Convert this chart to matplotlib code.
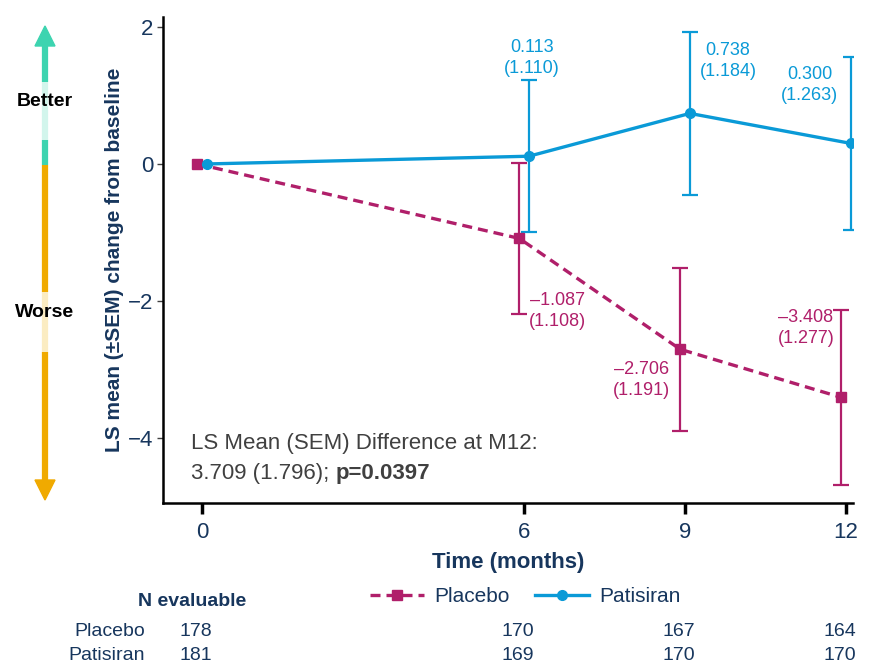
import matplotlib
matplotlib.use('Agg')
import matplotlib.pyplot as plt
import matplotlib.transforms as mtrans
from matplotlib.lines import Line2D
from matplotlib.patches import Polygon

plt.rcParams['font.family'] = ['Liberation Sans', 'DejaVu Sans']

months = [0, 6, 9, 12]
patisiranMean = [0.0, 0.113, 0.738, 0.300]
patisiranSem = [0.0, 1.110, 1.184, 1.263]
placeboMean = [0.0, -1.087, -2.706, -3.408]
placeboSem = [0.0, 1.108, 1.191, 1.277]
placeboN = [178, 170, 167, 164]
patisiranN = [181, 169, 170, 170]

navy = '#17365d'
blue = '#0a9ad7'
magenta = '#b01f6a'
grey = '#404040'
teal = '#3dd4b0'
orange = '#f0aa00'

W, H = 872, 664
fig = plt.figure(figsize=(W / 100, H / 100), dpi=100)
ax = fig.add_axes([163 / W, 1 - 503 / H, (853 - 163) / W, (503 - 16.7) / H])

offset = 0.09
xPla = [m - offset for m in months]
xPat = [m + offset for m in months]

ax.errorbar(xPla[1:], placeboMean[1:], yerr=placeboSem[1:], fmt='none',
            ecolor=magenta, elinewidth=1.6, capsize=6, capthick=1.6, zorder=2)
ax.errorbar(xPat[1:], patisiranMean[1:], yerr=patisiranSem[1:], fmt='none',
            ecolor=blue, elinewidth=1.6, capsize=6, capthick=1.6, zorder=2)
ax.plot(xPla, placeboMean, color=magenta, lw=2.4, ls=(0, (3, 1.8)), marker='s',
        markersize=7, label='Placebo', zorder=3)
ax.plot(xPat, patisiranMean, color=blue, lw=2.4, marker='o',
        markersize=7, label='Patisiran', zorder=4)

ax.set_xlim(-0.73, 12.13)
ax.set_ylim(-4.95, 2.15)
ax.set_xticks(months)
ax.set_yticks([-4, -2, 0, 2])
ax.set_yticklabels(['\u22124', '\u22122', '0', '2'])
ax.spines['top'].set_visible(False)
ax.spines['right'].set_visible(False)
for s in ['left', 'bottom']:
    ax.spines[s].set_color('black')
    ax.spines[s].set_linewidth(1.8)
ax.tick_params(axis='x', length=8, width=2.5, colors='black', labelcolor=navy,
               labelsize=16, pad=6)
ax.tick_params(axis='y', length=4, width=1, colors=grey, labelcolor=navy,
               labelsize=16, pad=3)
ax.set_xlabel('Time (months)', fontsize=16, fontweight='bold', color=navy, labelpad=6)
ax.set_ylabel('LS mean (\u00b1SEM) change from baseline', fontsize=15,
              fontweight='bold', color=navy, labelpad=3)

# value labels
lab = dict(fontsize=13, ha='center', va='center', linespacing=1.3)
def valText(v, s):
    t = ('%.3f' % v).replace('-', '\u2013')
    return t + '\n(%.3f)' % s

ax.text(6.15, 1.55, valText(patisiranMean[1], patisiranSem[1]), color=blue, **lab)
ax.text(9.8, 1.5, valText(patisiranMean[2], patisiranSem[2]), color=blue, **lab)
ax.text(11.32, 1.15, valText(patisiranMean[3], patisiranSem[3]), color=blue, **lab)
ax.text(6.62, -2.15, valText(placeboMean[1], placeboSem[1]), color=magenta, **lab)
ax.text(8.18, -3.15, valText(placeboMean[2], placeboSem[2]), color=magenta, **lab)
ax.text(11.25, -2.4, valText(placeboMean[3], placeboSem[3]), color=magenta, **lab)

t1 = ax.text(-0.2, -4.08, 'LS Mean (SEM) Difference at M12:', fontsize=16,
             color=grey, va='center', ha='left')
t2 = ax.text(-0.2, -4.52, '3.709 (1.796); ', fontsize=16, color=grey,
             va='center', ha='left')
ax.annotate('p=0.0397', xy=(1, 0), xycoords=t2, fontsize=16, color=grey,
            fontweight='bold', va='bottom', ha='left')

leg = ax.legend(loc='center', bbox_to_anchor=(525 / W, 1 - 597 / H),
                bbox_transform=fig.transFigure, ncol=2, frameon=False,
                fontsize=15, handlelength=2.6, columnspacing=1.2, handletextpad=0.5)
for txt in leg.get_texts():
    txt.set_color(navy)

# N evaluable table
blend = mtrans.blended_transform_factory(ax.transData, fig.transFigure)
fig.text(192 / W, 1 - 601 / H, 'N evaluable', fontsize=14, fontweight='bold',
         color=navy, ha='center', va='center')
fig.text(145 / W, 1 - 631 / H, 'Placebo', fontsize=14, color=navy, ha='right', va='center')
fig.text(145 / W, 1 - 655 / H, 'Patisiran', fontsize=14, color=navy, ha='right', va='center')
for m, a, b in zip(months, placeboN, patisiranN):
    ax.text(m - 0.12, 1 - 631 / H, str(a), transform=blend, fontsize=14,
            color=navy, ha='center', va='center')
    ax.text(m - 0.12, 1 - 655 / H, str(b), transform=blend, fontsize=14,
            color=navy, ha='center', va='center')

# Better / Worse arrow
ax_x = 45 / W
def fy(p):
    return 1 - p / H
def seg(y0, y1, c):
    fig.add_artist(Line2D([ax_x, ax_x], [fy(y0), fy(y1)], color=c, lw=4.5,
                          solid_capstyle='butt'))
seg(44, 82, teal)
seg(82, 140, '#d2f5ec')
seg(140, 165, teal)
seg(165, 292, orange)
seg(292, 352, '#fbecc2')
seg(352, 482, orange)
hw = 10 / W
fig.add_artist(Polygon([[ax_x - hw, fy(46)], [ax_x + hw, fy(46)], [ax_x, fy(26)]],
                       closed=True, color=teal))
fig.add_artist(Polygon([[ax_x - hw, fy(480)], [ax_x + hw, fy(480)], [ax_x, fy(500)]],
                       closed=True, color=orange))
fig.text(ax_x, fy(101), 'Better', fontsize=14, fontweight='bold', ha='center', va='center')
fig.text(ax_x, fy(312), 'Worse', fontsize=14, fontweight='bold', ha='center', va='center')

fig.savefig('out.png', dpi=100)
